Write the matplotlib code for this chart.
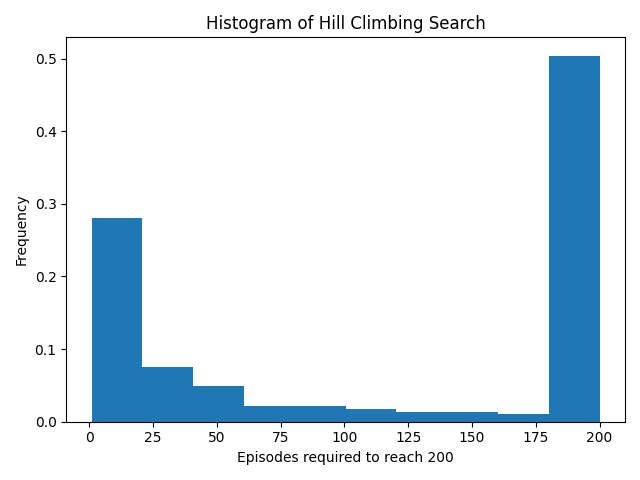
import numpy as np
import matplotlib
matplotlib.use("Agg")
import matplotlib.pyplot as plt

# bin edges span the observed range 1..200, 10 bins
bin_edges = np.linspace(1, 200, 11)
frequencies = [0.280, 0.075, 0.049, 0.021, 0.021, 0.017, 0.013, 0.014, 0.011, 0.504]

centers = (bin_edges[:-1] + bin_edges[1:]) / 2

fig, ax = plt.subplots(figsize=(6.4, 4.8), dpi=100)
ax.hist(centers, bins=bin_edges, weights=frequencies)
ax.set_title("Histogram of Hill Climbing Search")
ax.set_xlabel("Episodes required to reach 200")
ax.set_ylabel("Frequency")
plt.tight_layout()
plt.savefig("out.png")
